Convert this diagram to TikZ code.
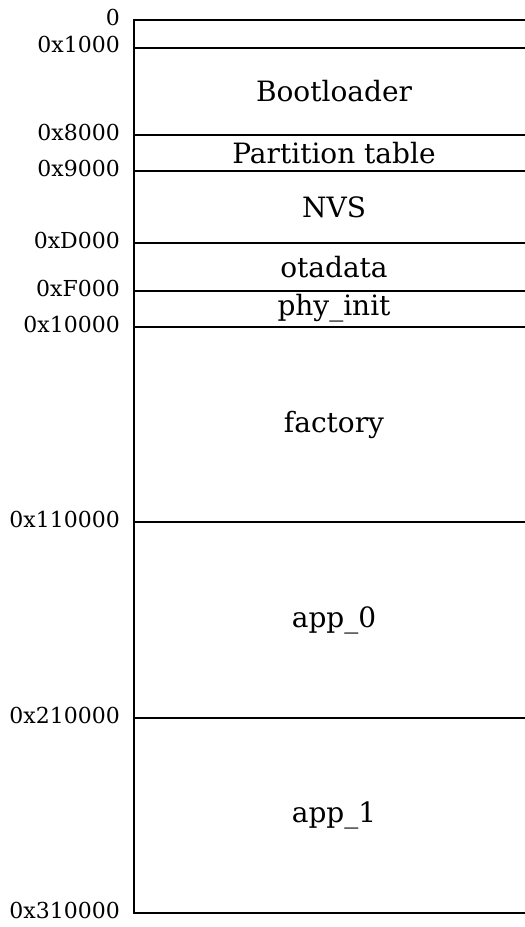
\documentclass[tikz,border=0pt]{standalone}
\usepackage{fontspec}
\setmainfont{DejaVu Serif}
\usepackage{tikz}

\begin{document}
\begin{tikzpicture}[x=1pt,y=1pt]
\tikzset{addr/.style={anchor=east,inner sep=0pt,font=\fontsize{22}{26}\selectfont},
  part/.style={inner sep=0pt,font=\fontsize{28}{32}\selectfont},
  edge/.style={line width=2pt}}
\useasboundingbox (0,0) rectangle (525,927);

% flash boundaries and their addresses
\foreach \y/\name/\lab in {907/b0/0, 879/b1/0x1000, 792/b2/0x8000, 756/b3/0x9000,
  684/b4/0xD000, 636/b5/0xF000, 600/b6/0x10000, 405/b7/0x110000,
  209/b8/0x210000, 14/b9/0x310000}{
  \coordinate (\name) at (134,\y);
  \draw [edge] (\name)--++(391,0);
  \node [addr] (l\name) at (120,\y+3) {\lab};
}
\draw [edge,line cap=rect] (b0)--(b9);

% partitions
\node [part] (boot) at (334,835.5) {Bootloader};
\node [part] (ptab) at (334,774) {Partition table};
\node [part] (nvs) at (334,720) {NVS};
\node [part] (ota) at (334,660) {otadata};
\node [part] (phy) at (334,619) {phy\_init};
\node [part] (fact) at (334,502.5) {factory};
\node [part] (app0) at (334,307) {app\_0};
\node [part] (app1) at (334,111.5) {app\_1};
\end{tikzpicture}
\end{document}
